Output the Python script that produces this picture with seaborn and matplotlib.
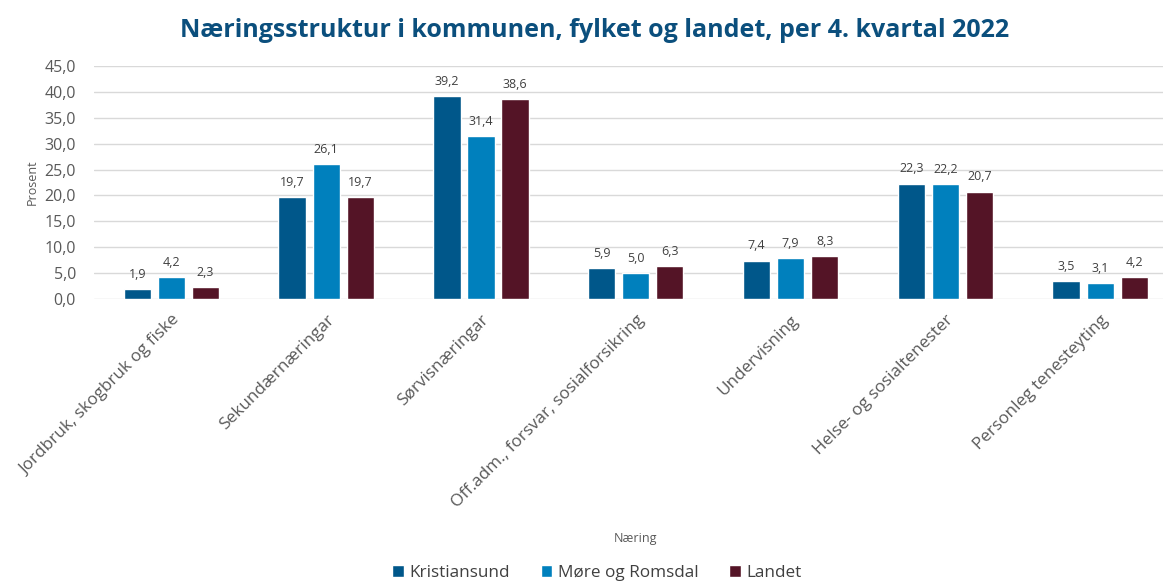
import pandas as pd
import matplotlib.pyplot as plt
import seaborn as sns
from matplotlib.ticker import FuncFormatter, MultipleLocator
from matplotlib.transforms import ScaledTranslation

naeringar = [
    'Jordbruk, skogbruk og fiske',
    'Sekundærnæringar',
    'Sørvisnæringar',
    'Off.adm., forsvar, sosialforsikring',
    'Undervisning',
    'Helse- og sosialtenester',
    'Personleg tenesteyting',
]
kristiansund = [1.9, 19.7, 39.2, 5.9, 7.4, 22.3, 3.5]
more_romsdal = [4.2, 26.1, 31.4, 5.0, 7.9, 22.2, 3.1]
landet = [2.3, 19.7, 38.6, 6.3, 8.3, 20.7, 4.2]
serier = ['Kristiansund', 'Møre og Romsdal', 'Landet']
farger = ['#00578a', '#0080bd', '#541426']

rows = []
for serie, verdiar in zip(serier, [kristiansund, more_romsdal, landet]):
    for n, v in zip(naeringar, verdiar):
        rows.append({'Næring': n, 'Serie': serie, 'Prosent': v})
df = pd.DataFrame(rows)

sns.set_style('white')
plt.rcParams['font.family'] = ['Open Sans', 'DejaVu Sans']

fig = plt.figure(figsize=(11.63, 5.82), dpi=100)
ax = fig.add_axes([0.0808, 0.4863, 0.9317, 0.4003])

sns.barplot(data=df, x='Næring', y='Prosent', hue='Serie', order=naeringar,
            hue_order=serier, palette=farger, width=0.66, gap=0.2,
            saturation=1, ax=ax, legend=True)

for cont in ax.containers:
    ax.bar_label(cont, labels=[f'{b.get_height():.1f}'.replace('.', ',') for b in cont],
                 padding=6, fontsize=9, color='#404040')

ax.set_ylim(0, 45)
ax.yaxis.set_major_locator(MultipleLocator(5))
ax.yaxis.set_major_formatter(FuncFormatter(lambda v, p: f'{v:.1f}'.replace('.', ',')))
ax.grid(axis='y', color='#d9d9d9', linewidth=1)
ax.set_axisbelow(True)
for s in ax.spines.values():
    s.set_visible(False)
ax.tick_params(axis='y', labelsize=11.5, labelcolor='#595959', length=0, pad=13)
ax.tick_params(axis='x', labelsize=12.3, labelcolor='#595959', length=0, pad=0)
for lab in ax.get_xticklabels():
    lab.set_rotation(45)
    lab.set_ha('right')
    lab.set_va('top')
    lab.set_rotation_mode('anchor')
    lab.set_transform(lab.get_transform() + ScaledTranslation(0, -13 / 100, fig.dpi_scale_trans))

ax.set_ylabel('Prosent', fontsize=9, color='#595959', labelpad=4)
ax.set_xlabel('Næring', fontsize=9, color='#595959')
ax.xaxis.set_label_coords(0.5, -1.0)

fig.text(0.511, 0.948, 'Næringsstruktur i kommunen, fylket og landet, per 4. kvartal 2022',
         ha='center', va='center', fontsize=18, fontweight='bold', color='#0b4f7d')

ax.legend(loc='center', bbox_to_anchor=(0.464, -1.176), ncol=3, frameon=False,
          fontsize=12.3, handlelength=0.7, handleheight=0.7, handletextpad=0.3,
          columnspacing=1.8, labelcolor='#404040')

fig.savefig('out.png', dpi=100)
